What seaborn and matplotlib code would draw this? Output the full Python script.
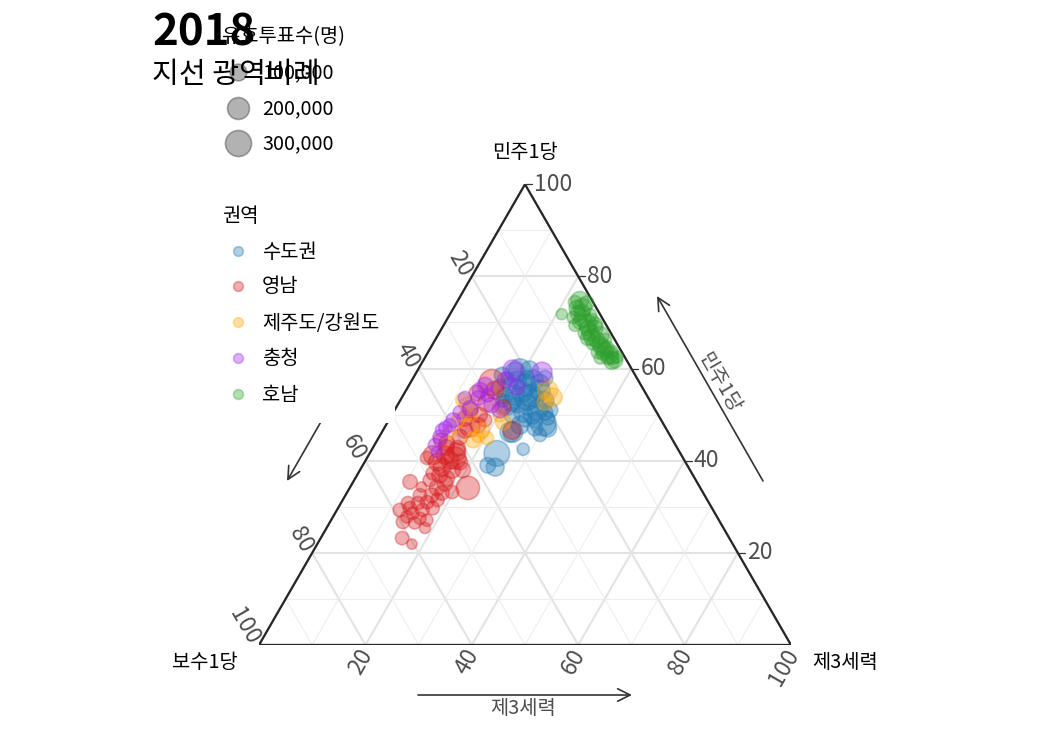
import numpy as np
import pandas as pd
import matplotlib
matplotlib.use("Agg")
import matplotlib.pyplot as plt
import seaborn as sns
from matplotlib.patches import Rectangle

sns.set_theme(style="white")
plt.rcParams['font.family'] = ['Noto Sans CJK KR', 'DejaVu Sans']
plt.rcParams['text.color'] = 'black'

# ---------------- data (vote shares in %, valid votes) ----------------
regions = ['수도권', '영남', '제주도/강원도', '충청', '호남']
region_colors = ['#1f77b4', '#d7191c', '#ffa500', '#a020f0', '#2ca02c']

sudo_minju = [59.7, 59.2, 57.5, 54.2, 53.6, 48.2, 50.3, 46.2, 42.5, 55.7, 52.1, 51.0,
              49.9, 53.1, 55.3, 56.4, 54.2, 48.8, 47.7, 54.2, 51.0, 41.6, 39.0, 38.6,
              46.2, 47.1, 57.5, 59.7, 57.9, 56.4, 52.1, 45.6, 58.6, 49.2,
              54.9, 53.6, 52.7, 49.9, 50.5, 52.1, 57.9, 56.8, 57.9, 48.8, 47.1, 53.1]
sudo_third = [19.2, 18.5, 22.8, 23.8, 23.6, 29.3, 24.5, 24.6, 28.4, 17.5, 20.6, 26.8,
              22.6, 27.2, 25.2, 21.8, 21.0, 27.5, 25.2, 19.1, 29.2, 23.9, 23.5, 25.1,
              24.1, 28.3, 19.8, 21.0, 24.8, 19.0, 24.5, 30.0, 16.4, 29.7,
              22.0, 25.1, 21.2, 26.4, 28.5, 22.6, 21.4, 24.4, 17.8, 25.6, 30.7, 19.3]
sudo_votes = [207000, 160000, 160000, 207000, 260000, 287000, 119000, 160000, 35000,
              119000, 160000, 160000, 81000, 119000, 160000, 207000, 160000, 81000,
              119000, 81000, 81000, 287000, 81000, 119000, 160000, 81000, 119000,
              119000, 81000, 81000, 160000, 49000, 81000, 49000,
              160000, 119000, 119000, 119000, 81000, 81000, 81000, 119000, 49000,
              49000, 119000, 49000]

yeong_minju = [57.0, 52.5, 47.3, 45.1, 43.8, 41.9, 41.2, 40.6, 54.7, 51.6, 46.6, 51.0,
               49.9, 39.7, 42.9, 40.6, 42.7, 34.1, 35.4, 34.3, 36.2, 38.0, 35.1, 34.1,
               33.0, 32.5, 31.0, 29.7, 30.8, 29.3, 28.6, 30.8, 29.3, 26.7, 26.5, 27.1,
               27.5, 27.8, 23.2, 21.9, 38.6, 37.3, 38.0, 40.1, 44.5, 48.8, 49.2,
               41.2, 39.7, 35.8, 32.5, 33.2, 31.5, 29.7, 25.4, 46.6, 47.7, 55.3, 36.9]
yeong_third = [15.3, 16.6, 16.0, 15.2, 13.4, 16.2, 12.1, 11.3, 13.6, 20.1, 24.3, 14.2,
               16.5, 13.7, 13.8, 16.5, 16.0, 22.2, 10.7, 13.4, 17.2, 17.3, 17.4, 16.4,
               17.9, 16.2, 16.1, 17.8, 14.5, 16.1, 14.6, 12.6, 11.8, 13.7, 16.0, 18.0,
               16.5, 13.9, 15.3, 17.8, 15.1, 14.0, 19.3, 15.8, 11.8, 18.1, 14.1,
               14.4, 17.9, 14.2, 14.0, 19.7, 17.8, 13.5, 18.5, 15.4, 17.3, 16.7, 15.5]
yeong_votes = [287000, 119000, 160000, 81000, 81000, 119000, 139000, 49000, 81000,
               81000, 119000, 81000, 81000, 119000, 81000, 207000, 81000, 233000,
               65000, 12000, 81000, 100000, 81000, 81000, 65000, 65000, 49000, 49000,
               49000, 49000, 35000, 49000, 49000, 49000, 35000, 35000, 35000, 35000,
               49000, 12000, 119000, 49000, 81000, 119000, 49000, 49000, 81000,
               119000, 81000, 49000, 49000, 49000, 49000, 49000, 21000, 81000, 81000,
               119000, 81000]

jg_minju = [55.3, 53.8, 48.4, 44.9, 44.5, 52.1, 46.2, 53.1, 46.6, 48.8, 52.7, 49.9, 49.9, 45.3]
jg_third = [26.6, 28.4, 21.7, 20.4, 18.0, 13.0, 12.8, 11.8, 18.6, 13.0, 27.4, 14.7, 20.3, 18.5]
jg_votes = [160000, 119000, 81000, 49000, 81000, 81000, 49000, 65000, 81000, 49000,
            81000, 49000, 49000, 35000]

cc_minju = [59.2, 59.7, 56.0, 55.3, 52.1, 48.8, 46.6, 43.4, 45.1, 47.7, 51.0, 53.6,
            51.4, 57.5, 54.2, 41.9, 50.5, 56.4, 47.1, 53.6]
cc_third = [23.6, 17.9, 20.5, 13.9, 17.7, 12.1, 11.1, 11.4, 11.5, 12.0, 19.8, 14.4,
            14.0, 17.5, 15.9, 12.5, 12.5, 14.3, 11.5, 11.9]
cc_votes = [160000, 160000, 81000, 81000, 81000, 65000, 49000, 49000, 65000, 49000,
            81000, 65000, 81000, 81000, 49000, 21000, 49000, 81000, 49000, 49000]

hn_minju = [74.8, 73.3, 73.1, 71.8, 71.1, 72.2, 69.8, 70.1, 69.4, 71.6, 68.8, 67.9,
            67.7, 67.2, 66.2, 66.2, 65.5, 64.6, 64.4, 63.3, 62.9, 61.8, 61.4, 62.3,
            62.5, 63.6, 66.6, 70.5, 74.2, 74.4,
            70.9, 66.8, 65.3, 64.0, 72.0, 69.6, 63.6, 68.8, 62.3, 62.3]
hn_third = [22.9, 24.2, 23.2, 21.0, 23.5, 24.6, 26.8, 25.3, 24.7, 26.4, 28.8, 28.3,
            27.4, 30.5, 30.4, 31.9, 30.0, 32.2, 33.2, 33.0, 34.5, 36.0, 35.6, 34.4,
            36.0, 31.9, 28.5, 27.3, 24.5, 22.2,
            25.4, 29.2, 31.4, 33.0, 24.0, 28.4, 34.5, 27.4, 35.3, 33.0]
hn_votes = [119000, 119000, 81000, 21000, 35000, 81000, 119000, 65000, 35000, 49000,
            81000, 100000, 49000, 119000, 81000, 49000, 49000, 100000, 65000, 49000,
            100000, 81000, 65000, 49000, 35000, 49000, 65000, 49000, 65000, 49000,
            100000, 100000, 81000, 81000, 81000, 65000, 49000, 81000, 49000, 35000]

size_legend_values = [100000, 200000, 300000]
tick_values = [20, 40, 60, 80, 100]

# ---------------- build table ----------------
parts = []
for name, m, t, v in zip(regions,
                         [sudo_minju, yeong_minju, jg_minju, cc_minju, hn_minju],
                         [sudo_third, yeong_third, jg_third, cc_third, hn_third],
                         [sudo_votes, yeong_votes, jg_votes, cc_votes, hn_votes]):
    parts.append(pd.DataFrame({'권역': name, '민주1당': m, '제3세력': t, '유효투표수': v}))
df = pd.concat(parts, ignore_index=True)
df['보수1당'] = 100 - df['민주1당'] - df['제3세력']

H3 = np.sqrt(3) / 2
df['x'] = df['제3세력'] + df['민주1당'] / 2
df['y'] = df['민주1당'] * H3

def tern(t, r):
    return r + t / 2, t * H3

# ---------------- figure ----------------
W, H = 1050, 750
fig = plt.figure(figsize=(7, 5), dpi=150)
fig.patch.set_facecolor('white')

X0, Y0, SIDE = 259, 645, 532        # triangle placement in pixels
ax = fig.add_axes([X0 / W, (H - Y0) / H, SIDE / W, SIDE * H3 / H])
ax.set_xlim(0, 100)
ax.set_ylim(0, 100 * H3)
ax.axis('off')

# grid
for v in range(10, 100, 10):
    major = (v % 20 == 0)
    col, lw = ('#e3e3e3', 1.0) if major else ('#ededed', 0.5)
    segs = [(tern(v, 0), tern(v, 100 - v)),
            (tern(0, v), tern(100 - v, v)),
            (tern(0, 100 - v), tern(100 - v, 0))]
    for (xa, ya), (xb, yb) in segs:
        ax.plot([xa, xb], [ya, yb], color=col, lw=lw, zorder=0.5, solid_capstyle='butt')

# triangle border
corners = [tern(0, 0), tern(0, 100), tern(100, 0), tern(0, 0)]
ax.plot([c[0] for c in corners], [c[1] for c in corners], color='#262626', lw=1.1,
        zorder=1, solid_joinstyle='miter')

SIZE_RANGE = (18.7, 204.3)
SIZE_NORM = (0, 400000)
palette = dict(zip(regions, region_colors))
sns.scatterplot(data=df, x='x', y='y', hue='권역', hue_order=regions, palette=palette,
                size='유효투표수', sizes=SIZE_RANGE, size_norm=SIZE_NORM,
                alpha=0.35, edgecolor='face', linewidth=0.8, legend=False,
                ax=ax, zorder=3, clip_on=False)
ax.set_xlabel('')
ax.set_ylabel('')

# ---------------- overlay (pixel coordinates) ----------------
lax = fig.add_axes([0, 0, 1, 1], zorder=5)
lax.set_xlim(0, W)
lax.set_ylim(H, 0)
lax.axis('off')

def pix(t, r):
    x, y = tern(t, r)
    return X0 + SIDE / 100 * x, Y0 - SIDE / 100 * y

grey = '#4d4d4d'
arrow_kw = dict(arrowstyle='->,head_length=0.6,head_width=0.3', color='#333333',
                lw=0.8, shrinkA=0, shrinkB=0, mutation_scale=10)
lax.annotate('', xy=(632, 695), xytext=(418, 695), arrowprops=arrow_kw, zorder=1)
lax.annotate('', xy=(657, 296), xytext=(763, 481), arrowprops=arrow_kw, zorder=1)
lax.annotate('', xy=(287, 481), xytext=(393, 296), arrowprops=arrow_kw, zorder=1)
lax.text(523, 709, '제3세력', ha='center', va='center', color=grey, fontsize=9.5, zorder=1)
lax.text(719, 383, '민주1당', ha='center', va='center', color=grey, fontsize=9.5,
         rotation=-60, rotation_mode='anchor', zorder=1)
lax.text(329, 382, '보수1당', ha='center', va='center', color=grey, fontsize=9.5,
         rotation=60, rotation_mode='anchor', zorder=1)

# vertex labels
lax.text(525, 152, '민주1당', ha='center', va='center', fontsize=9.5, color='black')
lax.text(238, 663, '보수1당', ha='right', va='center', fontsize=9.5, color='black')
lax.text(812, 663, '제3세력', ha='left', va='center', fontsize=9.5, color='black')

# legend background (권역)
lax.add_patch(Rectangle((205, 195), 190, 228, facecolor='white', edgecolor='none', zorder=2))

# tick labels and ticks
for v in tick_values:
    # right side: 민주1당
    px, py = pix(v, 100 - v)
    lax.plot([px, px + 7], [py, py], color='#333333', lw=0.6, zorder=4)
    lax.text(px + 9, py, str(v), ha='left', va='center', color=grey, fontsize=11, zorder=4)
    # bottom: 제3세력
    px, py = pix(0, v)
    lax.text(px + 2, py + 6, str(v), ha='right', va='center', color=grey, fontsize=11,
             rotation=60, rotation_mode='anchor', zorder=4)
    # left side: 보수1당
    px, py = pix(100 - v, 0)
    lax.text(px - 5, py - 2, str(v), ha='right', va='center', color=grey, fontsize=11,
             rotation=-60, rotation_mode='anchor', zorder=4)

# colour legend
lax.text(222, 216, '권역', ha='left', va='center', fontsize=9.5, zorder=3)
for name, col, yc in zip(regions, region_colors, [251, 286, 322, 358, 394]):
    lax.scatter([238], [yc], s=22, color=col, alpha=0.35, edgecolor='face', linewidths=0.8, zorder=3)
    lax.text(262, yc + 1, name, ha='left', va='center', fontsize=9.5, zorder=3)

# size legend
lax.text(222, 37, '유효투표수(명)', ha='left', va='center', fontsize=9.5, zorder=3)
for val, yc in zip(size_legend_values, [71.5, 107.5, 143]):
    s = SIZE_RANGE[0] + (val - SIZE_NORM[0]) / (SIZE_NORM[1] - SIZE_NORM[0]) * (SIZE_RANGE[1] - SIZE_RANGE[0])
    lax.scatter([238], [yc], s=s, color='black', alpha=0.3, edgecolor='face', linewidths=0.8, zorder=3)
    lax.text(262, yc + 1, f'{val:,}', ha='left', va='center', fontsize=9.5, zorder=3)

# title
lax.text(152, 45, '2018', ha='left', va='baseline', fontsize=21, fontweight='bold', zorder=6)
lax.text(152, 83, '지선 광역비례', ha='left', va='baseline', fontsize=14, zorder=6)

fig.savefig('out.png', dpi=150)
